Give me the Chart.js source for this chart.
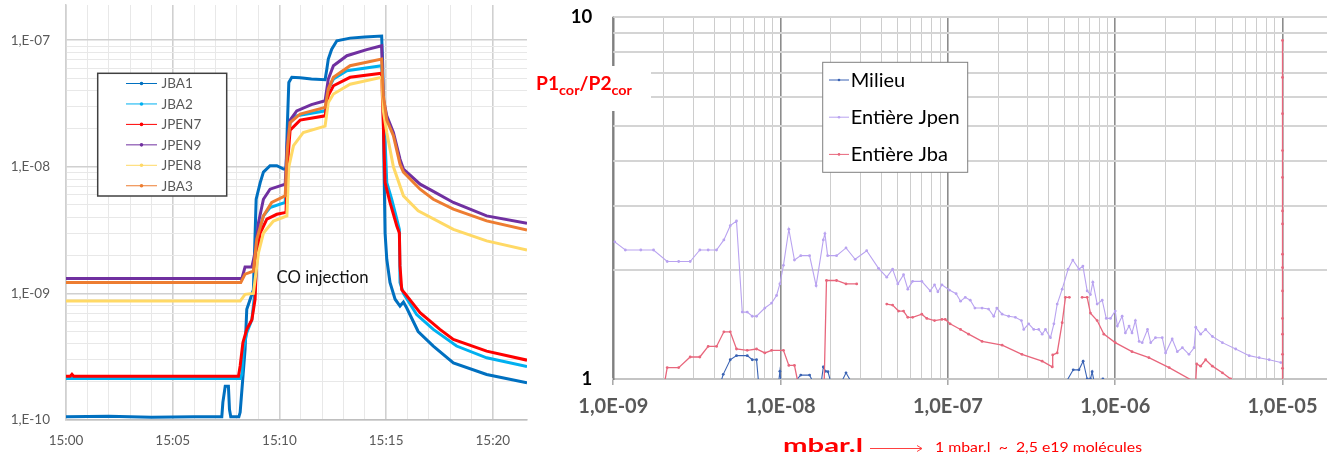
<!DOCTYPE html>
<html>
<head>
<meta charset="utf-8">
<script src="https://cdn.jsdelivr.net/npm/chart.js@4.4.1/dist/chart.umd.min.js"></script>
<style>
  html, body { margin: 0; padding: 0; background: #fff; }
  #wrap { position: relative; width: 1327px; height: 462px; overflow: hidden; background: #fff; }
  #left { position: absolute; left: 0; top: 0; }
  #right { position: absolute; left: 530px; top: 0; }
</style>
</head>
<body>
<div id="wrap">
  <canvas id="left" width="540" height="462"></canvas>
  <canvas id="right" width="802" height="462"></canvas>
</div>
<script>
// ---------- Left panel: pressure vs time (minutes after 15:00) ----------
const gaugeLabels = ['JBA1', 'JBA2', 'JPEN7', 'JPEN9', 'JPEN8', 'JBA3'];

const jba1 = [[0,1.06e-10],[2,1.07e-10],[4,1.05e-10],[6,1.06e-10],[7.3,1.06e-10],[7.35,1.38e-10],[7.46,1.85e-10],
  [7.61,1.85e-10],[7.66,1.21e-10],[7.72,1.06e-10],[8.1,1.06e-10],[8.16,1.15e-10],[8.39,3.6e-10],[8.47,7.5e-10],
  [8.63,9.0e-10],[8.78,1.07e-9],[8.91,5.55e-9],[9.10,7.5e-9],[9.25,9.1e-9],[9.56,1.02e-8],[9.88,1.02e-8],
  [10.19,9.6e-9],[10.31,9.6e-9],[10.37,2.1e-8],[10.44,4.65e-8],[10.58,5.1e-8],[10.97,5.05e-8],[11.5,4.95e-8],
  [12.14,4.88e-8],[12.22,5.9e-8],[12.29,7.1e-8],[12.45,8.5e-8],[12.69,9.9e-8],[13.31,1.04e-7],[14.0,1.06e-7],
  [14.79,1.08e-7],[14.84,6.3e-8],[14.90,1.0e-8],[14.95,3.0e-9],[15.03,1.86e-9],[15.18,1.22e-9],[15.42,9.0e-10],
  [15.65,7.95e-10],[15.81,8.55e-10],[15.96,7.7e-10],[16.5,5.0e-10],[17.21,3.84e-10],[18.15,2.83e-10],
  [19.71,2.29e-10],[21.6,1.97e-10]];

const jba2 = [[0,2.13e-10],[4,2.13e-10],[8.16,2.13e-10],[8.24,2.3e-10],[8.31,3.6e-10],[8.47,4.9e-10],[8.71,6.2e-10],
  [8.86,1.07e-9],[9.02,3.0e-9],[9.25,4.1e-9],[9.56,4.77e-9],[10.27,5.23e-9],[10.37,1.38e-8],[10.50,2.24e-8],
  [10.81,2.53e-8],[12.14,2.77e-8],[12.29,4.12e-8],[12.53,4.94e-8],[13.16,5.75e-8],[14.79,6.3e-8],[14.87,3.44e-8],
  [15.03,7.5e-9],[15.26,5.55e-9],[15.50,3.86e-9],[15.62,3.2e-9],[15.65,1.22e-9],[15.81,1.0e-9],[16.43,6.8e-10],
  [17.21,5.2e-10],[18.3,3.84e-10],[19.71,3.1e-10],[21.6,2.64e-10]];

const jpen7 = [[0,2.22e-10],[0.2,2.22e-10],[0.28,2.3e-10],[0.36,2.22e-10],[8.08,2.22e-10],[8.16,2.67e-10],
  [8.29,4.1e-10],[8.47,5.2e-10],[8.71,6.2e-10],[8.86,9.0e-10],[8.94,2.1e-9],[9.10,3.0e-9],[9.41,3.86e-9],
  [9.88,4.22e-9],[10.31,4.37e-9],[10.37,1.0e-8],[10.50,1.95e-8],[10.97,2.34e-8],[12.14,2.53e-8],[12.29,3.65e-8],
  [12.53,4.37e-8],[13.31,5.1e-8],[14.79,5.5e-8],[14.87,2.1e-8],[14.95,7.5e-9],[15.18,5.23e-9],[15.50,3.41e-9],
  [15.62,3.0e-9],[15.65,1.65e-9],[15.73,1.07e-9],[15.88,1.0e-9],[16.59,7.05e-10],[17.52,5.2e-10],
  [18.15,4.33e-10],[19.71,3.5e-10],[21.6,2.97e-10]];

const jpen9 = [[0,1.31e-9],[8.24,1.31e-9],[8.39,1.62e-9],[8.71,1.62e-9],[8.86,2.1e-9],[9.02,3.63e-9],[9.25,5.55e-9],
  [9.56,6.66e-9],[10.27,7.3e-9],[10.37,1.56e-8],[10.50,2.34e-8],[10.81,2.77e-8],[11.5,3.1e-8],[12.14,3.33e-8],
  [12.29,4.94e-8],[12.53,6.3e-8],[13.16,7.55e-8],[14.09,8.43e-8],[14.79,9.05e-8],[14.87,3.44e-8],[15.03,2.53e-8],
  [15.34,1.87e-8],[15.65,1.15e-8],[15.81,9.6e-9],[16.59,7.3e-9],[17.21,6.4e-9],[18.15,5.23e-9],[19.71,4.1e-9],
  [21.6,3.59e-9]];

const jpen8 = [[0,8.7e-10],[8.16,8.7e-10],[8.39,9.84e-10],[8.78,1.0e-9],[9.02,2.1e-9],[9.25,3.0e-9],[9.72,3.73e-9],
  [10.35,4.1e-9],[10.44,1.0e-8],[10.66,1.47e-8],[11.12,1.87e-8],[12.14,2.1e-8],[12.29,3.23e-8],[12.53,3.76e-8],
  [13.31,4.5e-8],[14.79,5.1e-8],[14.87,2.77e-8],[15.03,1.87e-8],[15.34,1.0e-8],[15.81,5.9e-9],[16.5,4.5e-9],
  [18.15,3.21e-9],[19.71,2.6e-9],[21.6,2.2e-9]];

const jba3 = [[0,1.22e-9],[8.19,1.22e-9],[8.39,1.42e-9],[8.78,1.5e-9],[8.94,2.68e-9],[9.25,4.1e-9],[9.64,5.23e-9],
  [10.27,5.9e-9],[10.37,1.38e-8],[10.50,2.24e-8],[10.97,2.61e-8],[12.14,2.95e-8],[12.29,4.12e-8],[12.53,5.1e-8],
  [13.31,6.3e-8],[14.79,7.1e-8],[14.87,3.65e-8],[15.03,2.34e-8],[15.34,1.76e-8],[15.65,1.05e-8],[15.81,9.1e-9],
  [16.59,6.66e-9],[17.21,5.55e-9],[18.15,4.63e-9],[19.71,3.74e-9],[21.6,3.17e-9]];

const gaugeSeries = [jba1, jba2, jpen7, jpen9, jpen8, jba3];
const gaugeColors = ['#0070C0', '#00B0F0', '#FF0000', '#7030A0', '#FFD966', '#ED7D31'];
const timeRange = [0, 21.6];          // minutes after 15:00
const pressureRange = [1e-10, 1.9e-7];

// ---------- Right panel: ratio vs injected quantity ----------
const ratioLabels = ['Milieu', 'Entière Jpen', 'Entière Jba'];

const milieu = [[4.33e-9,0.96],[4.54e-9,1.03],[5.00e-9,1.13],[5.45e-9,1.16],[6.32e-9,1.16],[6.77e-9,1.13],
  [7.18e-9,1.13],[7.41e-9,0.96],[8.5e-9,null],[9.69e-9,0.96],[9.9e-9,1.05],[1.01e-8,0.96],[1.08e-8,null],
  [1.16e-8,0.96],[1.32e-8,1.025],[1.49e-8,1.025],[1.60e-8,0.96],[1.68e-8,null],[1.74e-8,0.96],[1.80e-8,1.08],
  [1.86e-8,1.05],[1.92e-8,1.047],[2.02e-8,0.96],[2.1e-8,null],[2.26e-8,0.96],[2.46e-8,1.04],[2.72e-8,0.96],
  [1e-7,null],[4.95e-7,0.96],[5.61e-7,1.06],[6.07e-7,1.06],[6.43e-7,1.12],[6.80e-7,1.0],[7.11e-7,1.0],
  [7.28e-7,1.047],[7.56e-7,0.96],[8.0e-7,null],[8.44e-7,1.0]];

const jpen = [[1.02e-9,2.39],[1.18e-9,2.27],[1.46e-9,2.27],[1.74e-9,2.27],[2.10e-9,2.11],[2.46e-9,2.11],[2.88e-9,2.11],
  [3.29e-9,2.27],[3.69e-9,2.27],[4.14e-9,2.27],[4.58e-9,2.42],[5.00e-9,2.65],[5.45e-9,2.73],[5.90e-9,1.53],
  [6.32e-9,1.53],[6.77e-9,1.49],[7.18e-9,1.49],[8.05e-9,1.57],[8.83e-9,1.62],[9.46e-9,1.70],[9.90e-9,1.83],
  [1.04e-8,2.06],[1.12e-8,2.59],[1.21e-8,2.13],[1.32e-8,2.19],[1.49e-8,2.19],[1.63e-8,1.81],[1.80e-8,2.42],
  [1.84e-8,2.52],[1.91e-8,2.19],[2.16e-8,2.19],[2.46e-8,2.30],[2.79e-8,2.14],[3.27e-8,2.26],[3.85e-8,2.02],
  [4.31e-8,1.91],[4.67e-8,2.01],[5.02e-8,1.83],[5.43e-8,1.94],[5.76e-8,1.77],[6.15e-8,1.86],[6.98e-8,1.86],
  [7.84e-8,1.75],[8.32e-8,1.82],[8.71e-8,1.74],[9.21e-8,1.82],[1.02e-7,1.76],[1.12e-7,1.72],[1.19e-7,1.64],
  [1.27e-7,1.68],[1.36e-7,1.65],[1.45e-7,1.57],[1.60e-7,1.57],[1.75e-7,1.56],[1.88e-7,1.49],[1.96e-7,1.57],
  [2.11e-7,1.51],[2.31e-7,1.49],[2.53e-7,1.48],[2.75e-7,1.45],[2.84e-7,1.37],[3.04e-7,1.42],[3.26e-7,1.37],
  [3.49e-7,1.37],[3.66e-7,1.33],[3.83e-7,1.37],[4.10e-7,1.30],[4.30e-7,1.42],[4.50e-7,1.61],[4.82e-7,1.77],
  [5.23e-7,2.01],[5.58e-7,2.13],[6.07e-7,2.01],[6.41e-7,2.05],[6.80e-7,1.75],[7.11e-7,1.71],[7.35e-7,1.85],
  [7.80e-7,1.61],[8.36e-7,1.65],[8.84e-7,1.47],[9.37e-7,1.47],[1.00e-6,1.54],[1.03e-6,1.40],[1.10e-6,1.49],
  [1.15e-6,1.34],[1.21e-6,1.40],[1.26e-6,1.34],[1.32e-6,1.45],[1.39e-6,1.27],[1.45e-6,1.26],[1.56e-6,1.37],
  [1.63e-6,1.26],[1.74e-6,1.30],[1.91e-6,1.30],[2.00e-6,1.18],[2.19e-6,1.29],[2.35e-6,1.19],[2.52e-6,1.22],
  [2.76e-6,1.17],[2.96e-6,1.22],[3.03e-6,1.39],[3.24e-6,1.33],[3.47e-6,1.37],[3.81e-6,1.31],[4.37e-6,1.26],
  [5.25e-6,1.21],[6.32e-6,1.16],[7.25e-6,1.145],[8.32e-6,1.13],[9.77e-6,1.11]];

const jba = [[1.98e-9,0.92],[2.10e-9,1.075],[2.46e-9,1.075],[2.88e-9,1.15],[3.29e-9,1.15],[3.69e-9,1.23],
  [4.14e-9,1.23],[4.58e-9,1.35],[5.00e-9,1.35],[5.45e-9,1.21],[6.32e-9,1.20],[7.18e-9,1.21],[8.05e-9,1.18],
  [8.83e-9,1.20],[1.04e-8,1.20],[1.12e-8,1.09],[1.21e-8,1.09],[1.28e-8,0.96],[1.5e-8,null],[1.82e-8,0.96],
  [1.88e-8,1.87],[2.16e-8,1.87],[2.46e-8,1.83],[2.85e-8,1.83],[3.5e-8,null],[4.31e-8,1.61],[4.67e-8,1.60],
  [5.07e-8,1.54],[5.43e-8,1.54],[5.76e-8,1.48],[6.15e-8,1.48],[6.98e-8,1.51],[7.48e-8,1.47],[8.32e-8,1.45],
  [9.21e-8,1.46],[9.64e-8,1.46],[1.03e-7,1.42],[1.19e-7,1.37],[1.33e-7,1.33],[1.60e-7,1.27],[2.11e-7,1.24],
  [2.77e-7,1.17],[3.66e-7,1.12],[4.20e-7,1.08],[4.23e-7,1.165],[4.50e-7,1.18],[4.82e-7,1.43],[5.04e-7,1.68],
  [5.32e-7,1.68],[5.8e-7,null],[6.34e-7,1.68],[6.80e-7,1.68],[7.11e-7,1.52],[7.80e-7,1.45],[8.55e-7,1.33],
  [1.00e-6,1.26],[1.26e-6,1.19],[1.59e-6,1.145],[2.10e-6,1.075],[2.89e-6,0.99],[3.03e-6,0.99],[3.07e-6,1.10],
  [3.24e-6,1.085],[3.47e-6,1.13],[3.81e-6,1.085],[4.37e-6,1.04],[4.90e-6,1.0],[5.16e-6,0.96],[7e-6,null],
  [1e-5,0.96],[1e-5,1.07],[1e-5,1.17],[1e-5,1.33],[1e-5,1.47],[1e-5,1.75],[1e-5,2.03],[1e-5,2.21],[1e-5,2.68],
  [1e-5,2.91],[1e-5,3.6],[1e-5,4.27],[1e-5,5.4],[1e-5,6.8],[1e-5,8.6]];

const ratioSeries = [milieu, jpen, jba];
const ratioColors = ['#3A63B4', '#B9A3F0', '#E8667C'];
const quantityRange = [1e-9, 1.87e-5];   // mbar.l
const ratioTicks = [1, 2, 3, 4, 5, 6, 7, 8, 9, 10];

// ---------- helpers ----------
const FONT = 'Lato, "Open Sans", "DejaVu Sans", sans-serif';
const mantissa = v => {
  const e = Math.floor(Math.log10(v) + 1e-9);
  return Math.round(v / Math.pow(10, e) * 100) / 100;
};
const isDecade = v => mantissa(v) === 1;
const isSubDecade = v => { const m = mantissa(v); return Number.isInteger(m) && m >= 2 && m <= 9; };
const pad2 = n => String(n).padStart(2, '0');
const toPoints = arr => arr.map(([x, y]) => ({ x, y }));

function fixedSize(size) {
  return function (scale) {
    if (scale.isHorizontal()) scale.height = size; else scale.width = size;
    scale.paddingLeft = scale.paddingRight = scale.paddingTop = scale.paddingBottom = 0;
  };
}

// Boxed legend drawn inside the plot: one short line with a centre dot per dataset.
function drawBoxedLegend(chart, cfg) {
  const ctx = chart.ctx;
  ctx.save();
  ctx.fillStyle = '#fff';
  ctx.fillRect(cfg.x, cfg.y, cfg.w, cfg.h);
  ctx.strokeStyle = cfg.border;
  ctx.lineWidth = cfg.borderWidth;
  ctx.strokeRect(cfg.x, cfg.y, cfg.w, cfg.h);
  ctx.font = cfg.font;
  ctx.textBaseline = 'middle';
  ctx.textAlign = 'left';
  chart.data.datasets.forEach((ds, i) => {
    const y = cfg.rowY + i * cfg.rowStep;
    ctx.strokeStyle = ds.borderColor;
    ctx.lineWidth = cfg.lineWidth;
    ctx.beginPath();
    ctx.moveTo(cfg.lineX0, y);
    ctx.lineTo(cfg.lineX1, y);
    ctx.stroke();
    ctx.fillStyle = ds.borderColor;
    ctx.beginPath();
    ctx.arc((cfg.lineX0 + cfg.lineX1) / 2, y, cfg.dot, 0, Math.PI * 2);
    ctx.fill();
    ctx.fillStyle = cfg.color;
    ctx.fillText(ds.label, cfg.textX, y + 0.5);
  });
  ctx.restore();
}

// Text stretched horizontally to a given width, drawn on its baseline.
function fitText(ctx, text, x, y, width) {
  const w = ctx.measureText(text).width;
  ctx.save();
  ctx.translate(x, y);
  ctx.scale(width / w, 1);
  ctx.fillText(text, 0, 0);
  ctx.restore();
}

// ---------- left chart ----------
const gaugeLegend = {
  id: 'gaugeLegend',
  afterDatasetsDraw(chart) {
    drawBoxedLegend(chart, {
      x: 97.7, y: 73.3, w: 129, h: 122.7, border: '#404040', borderWidth: 1.5,
      rowY: 83.5, rowStep: 20.45, lineX0: 126, lineX1: 157, lineWidth: 1, dot: 1.8,
      textX: 161.5, font: '13.5px ' + FONT, color: '#595959'
    });
    const ctx = chart.ctx;
    ctx.save();
    ctx.font = '17px ' + FONT;
    ctx.fillStyle = '#111';
    ctx.textBaseline = 'alphabetic';
    fitText(ctx, 'CO injection', 276.5, 283, 92);
    ctx.restore();
  }
};

new Chart(document.getElementById('left'), {
  type: 'line',
  data: {
    datasets: gaugeSeries.map((s, i) => ({
      label: gaugeLabels[i],
      data: toPoints(s),
      borderColor: gaugeColors[i],
      backgroundColor: gaugeColors[i],
      borderWidth: 3,
      pointRadius: 0,
      tension: 0,
      order: gaugeSeries.length - 1 - i
    }))
  },
  options: {
    responsive: false,
    animation: false,
    devicePixelRatio: 1,
    events: [],
    layout: { padding: { left: 0, top: 5, right: 13, bottom: 0 } },
    plugins: { legend: { display: false }, tooltip: { enabled: false } },
    scales: {
      x: {
        type: 'linear',
        min: timeRange[0], max: timeRange[1],
        afterFit: fixedSize(42),
        border: { display: true, color: '#bfbfbf', width: 1.5 },
        grid: {
          drawTicks: false,
          color: c => (!c.tick || !Number.isInteger(c.tick.value)) ? 'transparent'
                      : (c.tick.value % 5 === 0 ? '#d0d0d0' : '#e8e8e8'),
          lineWidth: c => (c.tick && c.tick.value % 5 === 0) ? 1.6 : 1
        },
        ticks: {
          stepSize: 1, autoSkip: false, maxRotation: 0, padding: 13,
          color: '#595959', font: { family: FONT, size: 13.5 },
          callback: v => (Number.isInteger(v) && v % 5 === 0) ? '15:' + pad2(v) : ''
        }
      },
      y: {
        type: 'logarithmic',
        min: pressureRange[0], max: pressureRange[1],
        afterFit: fixedSize(66),
        border: { display: true, color: '#d0d0d0', width: 1.5 },
        grid: {
          drawTicks: false,
          color: c => !c.tick ? 'transparent' : isDecade(c.tick.value) ? '#d0d0d0'
                      : isSubDecade(c.tick.value) ? '#e8e8e8' : 'transparent',
          lineWidth: c => (c.tick && isDecade(c.tick.value)) ? 1.6 : 1
        },
        ticks: {
          autoSkip: false, padding: 16,
          color: '#595959', font: { family: FONT, size: 13.5 },
          callback: v => isDecade(v) ? '1,E-' + pad2(-Math.round(Math.log10(v))) : ''
        }
      }
    }
  },
  plugins: [gaugeLegend]
});

// ---------- right chart ----------
const OX = 530; // left offset of the right canvas in the page

// Horizontal rules at every integer ratio, placed through the y scale, under the series.
const ratioRules = {
  id: 'ratioRules',
  beforeDatasetsDraw(chart) {
    const { ctx, chartArea: a, scales } = chart;
    ctx.save();
    ctx.strokeStyle = '#d4d4d4';
    ctx.lineWidth = 2;
    scales.y.ticks.forEach(t => {
      if (t.value <= 1) return;
      const y = Math.round(scales.y.getPixelForValue(t.value));
      ctx.beginPath();
      ctx.moveTo(a.left, y);
      ctx.lineTo(a.right, y);
      ctx.stroke();
    });
    ctx.restore();
  }
};

// Legend and axis titles, drawn last.
const ratioOverlay = {
  id: 'ratioOverlay',
  afterDraw(chart) {
    const ctx = chart.ctx;
    drawBoxedLegend(chart, {
      x: 822.7 - OX, y: 62.3, w: 145, h: 110, border: '#7f7f7f', borderWidth: 1,
      rowY: 80, rowStep: 37.2, lineX0: 829 - OX, lineX1: 849 - OX, lineWidth: 1, dot: 1.3,
      textX: 850.7 - OX, font: '20px ' + FONT, color: '#000'
    });

    ctx.save();
    // y axis title on a white patch
    ctx.fillStyle = '#fff';
    ctx.fillRect(0, 66, 651 - OX, 45);
    ctx.fillStyle = '#FF0000';
    ctx.textBaseline = 'alphabetic';
    const big = 'bold 18px ' + FONT, small = 'bold 13.5px ' + FONT;
    const parts = [['P1', big, 0], ['cor', small, 5], ['/P2', big, 0], ['cor', small, 5]];
    let total = 0;
    parts.forEach(p => { ctx.font = p[1]; total += ctx.measureText(p[0]).width; });
    const k = 96 / total;
    ctx.save();
    ctx.translate(536 - OX, 90);
    ctx.scale(k, 1);
    let x = 0;
    parts.forEach(p => { ctx.font = p[1]; ctx.fillText(p[0], x, p[2]); x += ctx.measureText(p[0]).width; });
    ctx.restore();

    // x axis title, arrow and conversion note
    ctx.font = 'bold 19.5px ' + FONT;
    fitText(ctx, 'mbar.l', 783 - OX, 452.3, 80);
    ctx.strokeStyle = '#FF4040';
    ctx.lineWidth = 1;
    ctx.beginPath();
    ctx.moveTo(870 - OX, 448.5); ctx.lineTo(922 - OX, 448.5);
    ctx.moveTo(917 - OX, 445.5); ctx.lineTo(922 - OX, 448.5); ctx.lineTo(917 - OX, 451.5);
    ctx.stroke();
    ctx.font = '12.5px ' + FONT;
    fitText(ctx, '1 mbar.l  ~  2,5 e19 molécules', 935 - OX, 452.3, 207);
    ctx.restore();
  }
};

new Chart(document.getElementById('right'), {
  type: 'line',
  data: {
    datasets: ratioSeries.map((s, i) => ({
      label: ratioLabels[i],
      data: toPoints(s),
      borderColor: ratioColors[i],
      backgroundColor: ratioColors[i],
      pointBackgroundColor: ratioColors[i],
      borderWidth: i === 2 ? 1.3 : 1.1,
      pointRadius: 1.4,
      pointBorderWidth: 0,
      spanGaps: false,
      tension: 0,
      order: ratioSeries.length - 1 - i
    }))
  },
  options: {
    responsive: false,
    animation: false,
    devicePixelRatio: 1,
    events: [],
    layout: { padding: { left: 0, top: 16.7, right: 0, bottom: 0 } },
    plugins: { legend: { display: false }, tooltip: { enabled: false } },
    scales: {
      x: {
        type: 'logarithmic',
        min: quantityRange[0], max: quantityRange[1],
        afterFit: fixedSize(83),
        border: { display: true, color: '#c4c4c4', width: 2 },
        grid: {
          drawTicks: true, tickLength: 6,
          color: c => !c.tick ? 'transparent' : isDecade(c.tick.value) ? '#8c8c8c'
                      : isSubDecade(c.tick.value) ? '#cdcdcd' : 'transparent',
          lineWidth: c => (c.tick && isDecade(c.tick.value)) ? 1.6 : 1,
          tickColor: c => (c.tick && isDecade(c.tick.value)) ? '#a6a6a6' : 'transparent',
          tickWidth: 1.5
        },
        ticks: {
          autoSkip: false, maxRotation: 0, padding: 10,
          color: '#595959', font: { family: FONT, size: 20, weight: 'bold' },
          callback: v => isDecade(v) ? '1,0E-' + pad2(-Math.round(Math.log10(v))) : ''
        }
      },
      y: {
        type: 'logarithmic',
        min: ratioTicks[0], max: ratioTicks[ratioTicks.length - 1],
        afterFit: fixedSize(613.3 - OX),
        afterBuildTicks: scale => { scale.ticks = ratioTicks.map(v => ({ value: v })); },
        border: { display: true, color: '#808080', width: 1.5 },
        grid: {
          drawTicks: false,
          color: c => (c.tick && c.tick.value > 1) ? '#d4d4d4' : 'transparent',
          lineWidth: 2
        },
        ticks: {
          autoSkip: false, padding: 21,
          color: '#000', font: { family: FONT, size: 18.5, weight: 'bold' },
          callback: v => (v === 1 || v === 10) ? String(v) : ''
        }
      }
    }
  },
  plugins: [ratioRules, ratioOverlay]
});
</script>
</body>
</html>
